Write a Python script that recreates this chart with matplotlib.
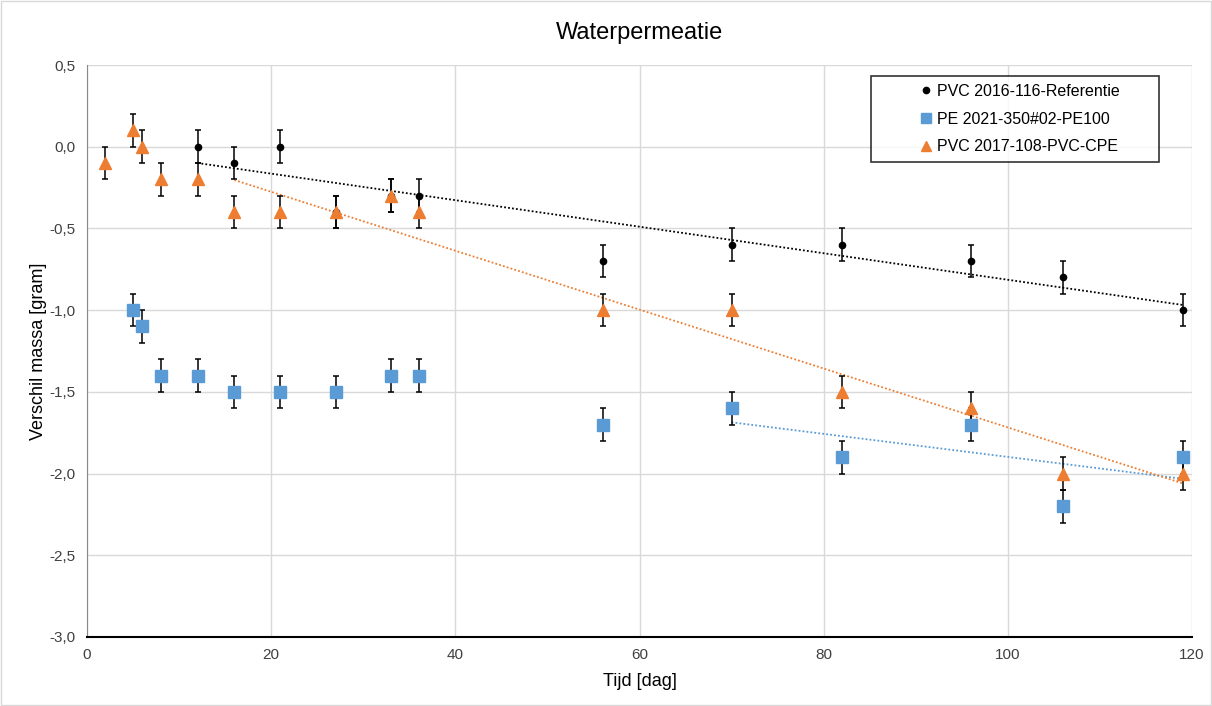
import numpy as np
import matplotlib.pyplot as plt
from matplotlib.ticker import FuncFormatter, MultipleLocator
from matplotlib.lines import Line2D

# data
ref_x = [12, 16, 21, 27, 33, 36, 56, 70, 82, 96, 106, 119]
ref_y = [0.0, -0.1, 0.0, -0.4, -0.3, -0.3, -0.7, -0.6, -0.6, -0.7, -0.8, -1.0]

pe_x = [5, 6, 8, 12, 16, 21, 27, 33, 36, 56, 70, 82, 96, 106, 119]
pe_y = [-1.0, -1.1, -1.4, -1.4, -1.5, -1.5, -1.5, -1.4, -1.4, -1.7, -1.6, -1.9, -1.7, -2.2, -1.9]

cpe_x = [2, 5, 6, 8, 12, 16, 21, 27, 33, 36, 56, 70, 82, 96, 106, 119]
cpe_y = [-0.1, 0.1, 0.0, -0.2, -0.2, -0.4, -0.4, -0.4, -0.3, -0.4, -1.0, -1.0, -1.5, -1.6, -2.0, -2.0]

err = 0.1
# start of the trendline fit for each series
ref_fit_from = 12
pe_fit_from = 70
cpe_fit_from = 16

labels = ['PVC 2016-116-Referentie', 'PE 2021-350#02-PE100', 'PVC 2017-108-PVC-CPE']

plt.rcParams['font.family'] = ['Liberation Sans', 'DejaVu Sans']

fig = plt.figure(figsize=(12.12, 7.06), dpi=100)
ax = fig.add_axes([87 / 1212, 1 - 637 / 706, 1105 / 1212, 572 / 706])

blue = '#5b9bd5'
orange = '#ed7d31'


def trend(x, y, start, color):
    x = np.array(x, dtype=float)
    y = np.array(y, dtype=float)
    sel = x >= start
    p = np.polyfit(x[sel], y[sel], 1)
    xs = np.array([x[sel].min(), x[sel].max()])
    ax.plot(xs, np.polyval(p, xs), linestyle=(0, (1, 1.2)), color=color, lw=1.3, zorder=2)


trend(ref_x, ref_y, ref_fit_from, 'black')
trend(pe_x, pe_y, pe_fit_from, blue)
trend(cpe_x, cpe_y, cpe_fit_from, orange)

ekw = dict(ecolor='black', elinewidth=1.1, capsize=2.3, capthick=1.1, linestyle='none', zorder=3)
ax.errorbar(ref_x, ref_y, yerr=err, fmt='o', color='black', ms=4.5, **ekw)
ax.errorbar(pe_x, pe_y, yerr=err, fmt='s', color=blue, ms=8, mec=blue, **ekw)
ax.errorbar(cpe_x, cpe_y, yerr=err, fmt='^', color=orange, ms=8.5, mec=orange, **ekw)

ax.set_xlim(0, 120)
ax.set_ylim(-3.0, 0.5)
ax.xaxis.set_major_locator(MultipleLocator(20))
ax.yaxis.set_major_locator(MultipleLocator(0.5))
ax.yaxis.set_major_formatter(FuncFormatter(lambda v, p: f'{v:.1f}'.replace('.', ',')))
ax.grid(True, color='#d9d9d9', lw=1)
ax.set_axisbelow(True)
for s in ['top', 'right']:
    ax.spines[s].set_visible(False)
ax.spines['left'].set_color('#888888')
ax.spines['bottom'].set_color('black')
ax.spines['bottom'].set_linewidth(1.5)
ax.tick_params(length=0, labelsize=11, colors='#404040', pad=8)

ax.set_title('Waterpermeatie', fontsize=17, pad=19)
ax.set_xlabel('Tijd [dag]', fontsize=13, labelpad=8)
ax.set_ylabel('Verschil massa [gram]', fontsize=13, labelpad=2)

# legend without error bars, box stretched to the reference size
handles = [
    Line2D([], [], marker='o', color='black', ls='none', ms=4.5),
    Line2D([], [], marker='s', color=blue, ls='none', ms=7.5),
    Line2D([], [], marker='^', color=orange, ls='none', ms=7.5),
]
leg = ax.legend(handles, labels, loc='upper left', bbox_to_anchor=(0.7095, 0.0, 0.2606, 0.981),
                mode='expand', fontsize=11.5, frameon=True, fancybox=False, edgecolor='black',
                handletextpad=-2.25, handlelength=5.9, borderpad=0.5, labelspacing=0.8,
                borderaxespad=0)
leg.get_frame().set_linewidth(1.2)

fig.patches.append(plt.Rectangle((0.001, 0.001), 0.998, 0.998, transform=fig.transFigure,
                                 fill=False, edgecolor='#d9d9d9', lw=1))

fig.savefig('out.png', dpi=100)
